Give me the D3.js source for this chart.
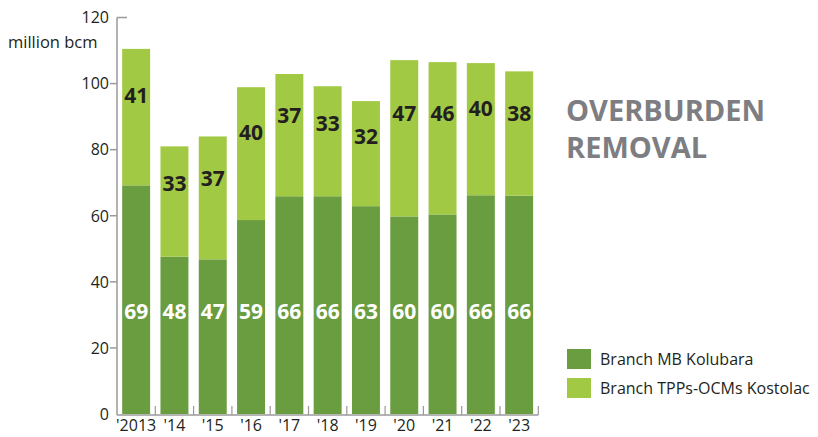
<!DOCTYPE html>
<html>
<head>
<meta charset="utf-8">
<script src="https://cdn.jsdelivr.net/npm/d3@7"></script>
<style>
  body { margin: 0; background: #fff; }
  svg { display: block; font-family: "Open Sans", sans-serif; }
</style>
</head>
<body>
<svg width="818" height="437"></svg>
<script>
const years = ["'2013", "'14", "'15", "'16", "'17", "'18", "'19", "'20", "'21", "'22", "'23"];
const kolubara = [69.2, 47.6, 46.8, 58.7, 65.9, 65.9, 62.9, 59.8, 60.4, 66.2, 66.1];
const kostolac = [41.3, 33.4, 37.2, 40.2, 37.0, 33.3, 31.8, 47.3, 46.1, 40.0, 37.6];
const yTicks = [0, 20, 40, 60, 80, 100, 120];
const seriesNames = ["Branch MB Kolubara", "Branch TPPs-OCMs Kostolac"];
const colors = ["#6a9c40", "#a2c943"];

const svg = d3.select("svg");
const axisColor = "#9a9a9a";

const x = d3.scaleBand()
    .domain(years)
    .range([117, 538.3])
    .paddingInner(0.27)
    .paddingOuter(0.135);

const y = d3.scaleLinear()
    .domain([0, 120])
    .range([414, 17.5]);

const rows = years.map((yr, i) => ({year: yr, kolubara: kolubara[i], kostolac: kostolac[i]}));
const stack = d3.stack().keys(["kolubara", "kostolac"])(rows);

// bars
svg.append("g").selectAll("g").data(stack)
  .enter().append("g")
    .attr("fill", (d, i) => colors[i])
  .selectAll("rect").data(d => d)
  .enter().append("rect")
    .attr("x", d => x(d.data.year))
    .attr("width", x.bandwidth())
    .attr("y", d => y(d[1]))
    .attr("height", d => y(d[0]) - y(d[1]));

// value labels
svg.append("g").selectAll("text").data(stack[0])
  .enter().append("text")
    .attr("x", d => x(d.data.year) + x.bandwidth() / 2)
    .attr("y", y(31))
    .attr("dy", "0.36em")
    .attr("text-anchor", "middle")
    .attr("fill", "#fff")
    .attr("font-weight", "bold")
    .attr("font-size", 21)
    .text(d => Math.round(d[1] - d[0]));

svg.append("g").selectAll("text").data(stack[1])
  .enter().append("text")
    .attr("x", d => x(d.data.year) + x.bandwidth() / 2)
    .attr("y", d => y(d[1]) + (y(d[0]) - y(d[1])) * 0.34)
    .attr("dy", "0.36em")
    .attr("text-anchor", "middle")
    .attr("fill", "#231f20")
    .attr("font-weight", "bold")
    .attr("font-size", 21)
    .text(d => Math.round(d[1] - d[0]));

// y axis
const yAxis = svg.append("g");
yAxis.append("line")
    .attr("x1", 117).attr("x2", 117)
    .attr("y1", y(120)).attr("y2", y(0) + 1)
    .attr("stroke", axisColor).attr("stroke-width", 1.5);
yAxis.selectAll("line.tick").data(yTicks.filter(v => v > 0 && v < 120))
  .enter().append("line")
    .attr("class", "tick")
    .attr("x1", 110).attr("x2", 117)
    .attr("y1", d => y(d)).attr("y2", d => y(d))
    .attr("stroke", axisColor).attr("stroke-width", 1.5);
yAxis.append("line")
    .attr("x1", 117).attr("x2", 127)
    .attr("y1", y(120)).attr("y2", y(120))
    .attr("stroke", axisColor).attr("stroke-width", 1.5);
yAxis.selectAll("text").data(yTicks)
  .enter().append("text")
    .attr("x", 109)
    .attr("y", d => y(d))
    .attr("dy", "0.36em")
    .attr("text-anchor", "end")
    .attr("font-size", 16)
    .attr("fill", "#231f20")
    .text(d => d);

svg.append("text")
    .attr("x", 8).attr("y", 48)
    .attr("font-size", 16.5)
    .attr("fill", "#231f20")
    .text("million bcm");

// x axis
const step = x.step();
const xAxis = svg.append("g");
xAxis.append("line")
    .attr("x1", 117).attr("x2", 538.3)
    .attr("y1", y(0) + 1).attr("y2", y(0) + 1)
    .attr("stroke", axisColor).attr("stroke-width", 1.5);
xAxis.selectAll("line.tick").data(years)
  .enter().append("line")
    .attr("class", "tick")
    .attr("x1", d => x(d) + x.bandwidth() + step * x.paddingInner() / 2)
    .attr("x2", d => x(d) + x.bandwidth() + step * x.paddingInner() / 2)
    .attr("y1", y(0) + 1).attr("y2", y(0) - 8)
    .attr("stroke", axisColor).attr("stroke-width", 1.2);
xAxis.selectAll("text").data(years)
  .enter().append("text")
    .attr("x", d => x(d) + x.bandwidth() / 2)
    .attr("y", 431)
    .attr("text-anchor", "middle")
    .attr("font-size", 16)
    .attr("fill", "#231f20")
    .text(d => d);

// title
const title = svg.append("text")
    .attr("x", 566)
    .attr("font-size", 29)
    .attr("font-weight", "bold")
    .attr("fill", "#7d7d82");
title.append("tspan").attr("x", 566).attr("y", 121).text("OVERBURDEN");
title.append("tspan").attr("x", 566).attr("y", 158).text("REMOVAL");

// legend
const legend = svg.append("g").selectAll("g").data(seriesNames)
  .enter().append("g")
    .attr("transform", (d, i) => `translate(567, ${349 + i * 29})`);
legend.append("rect")
    .attr("width", 24).attr("height", 20)
    .attr("fill", (d, i) => colors[i]);
legend.append("text")
    .attr("x", 33).attr("y", 16)
    .attr("font-size", 16)
    .attr("fill", "#231f20")
    .text(d => d);
</script>
</body>
</html>
